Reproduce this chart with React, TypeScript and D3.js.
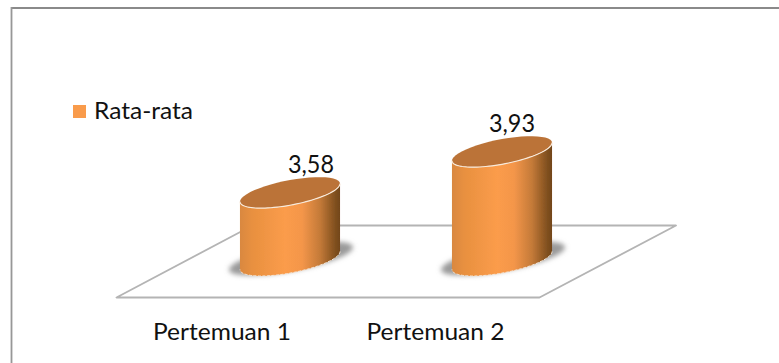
import React from "react";
import * as d3 from "d3";

// Chart values
const categories = ["Pertemuan 1", "Pertemuan 2"];
const averages = [3.58, 3.93];
const averageLabels = ["3,58", "3,93"];
const seriesName = "Rata-rata";

// Label nudges relative to the top of each cylinder
const labelNudge = [21, 10];
const categoryNudge = [-68, -66.5];

const WIDTH = 779;
const HEIGHT = 363;
const FONT = "Lato, 'Noto Sans', sans-serif";

const xScale = d3
  .scaleBand<string>()
  .domain(categories)
  .range([184, 608])
  .paddingInner(0.528)
  .paddingOuter(0.264);

// The value axis is truncated at 3, as in the original 3D column chart
const yScale = d3.scaleLinear().domain([3, 4]).range([260.5, 143.5]);

const SKEW = 0.18;
const MINOR = 12.6;

// Point on the tilted elliptical cross-section of a cylinder
function rimPoint(cx: number, cy: number, a: number, t: number): [number, number] {
  return [cx + a * Math.cos(t), cy - SKEW * a * Math.cos(t) + MINOR * Math.sin(t)];
}

const rimLine = d3.line<[number, number]>();

function rim(cx: number, cy: number, a: number, from: number, to: number) {
  const pts = d3.range(0, 49).map((i) => rimPoint(cx, cy, a, from + ((to - from) * i) / 48));
  return pts;
}

function cylinderBody(cx: number, top: number, base: number, a: number) {
  const upper = rim(cx, top, a, Math.PI, 0);
  const lower = rim(cx, base, a, 0, Math.PI);
  return rimLine([...upper, ...lower]) + "Z";
}

export default function App() {
  const bw = xScale.bandwidth();
  const a = bw / 2;
  const base = yScale(3);
  const floor: [number, number][] = [
    [116.5, 297.5],
    [539.5, 297.5],
    [676, 225.5],
    [252.5, 225.5],
  ];

  return (
    <svg
      width={WIDTH}
      height={HEIGHT}
      viewBox={`0 0 ${WIDTH} ${HEIGHT}`}
      style={{ position: "absolute", left: 0, top: 0, background: "#fff" }}
    >
      <defs>
        <linearGradient id="cylinderSide" x1="0" x2="1" y1="0" y2="0">
          <stop offset="0" stopColor="#d9883f" />
          <stop offset="0.12" stopColor="#e8903f" />
          <stop offset="0.45" stopColor="#fb9c4b" />
          <stop offset="0.62" stopColor="#f4964a" />
          <stop offset="0.8" stopColor="#c47a38" />
          <stop offset="0.95" stopColor="#81501f" />
          <stop offset="1" stopColor="#724619" />
        </linearGradient>
        <filter id="softShadow" x="-30%" y="-60%" width="160%" height="220%">
          <feGaussianBlur stdDeviation="2.8" />
        </filter>
        <filter id="softEdge" x="-10%" y="-10%" width="120%" height="120%">
          <feGaussianBlur stdDeviation="0.5" />
        </filter>
      </defs>

      {/* Outer frame: only the top and left edges are visible */}
      <line x1={11} y1={8} x2={WIDTH} y2={8} stroke="#8a8a8a" strokeWidth={2} />
      <line x1={11.5} y1={7} x2={11.5} y2={HEIGHT} stroke="#979797" strokeWidth={1.8} />

      {/* Floor plane */}
      <polygon
        points={floor.map((p) => p.join(",")).join(" ")}
        fill="#fff"
        stroke="#b4b4b4"
        strokeWidth={1.8}
        strokeLinejoin="round"
      />

      {/* Legend */}
      <rect x={73} y={105} width={13} height={13} fill="#f99b4b" />
      <text
        x={94}
        y={119}
        fontFamily={FONT}
        fontSize={24}
        fill="#111"
        textLength={99}
        lengthAdjust="spacingAndGlyphs"
      >
        {seriesName}
      </text>

      {/* Cylinders */}
      {categories.map((c, i) => {
        const cx = xScale(c)! + a;
        const top = yScale(averages[i]);
        return (
          <g key={c}>
            <path
              d={rimLine(rim(cx + 1, base - 2, a + 12, 0, Math.PI * 2)) + "Z"}
              fill="#9a9a9a"
              filter="url(#softShadow)"
            />
            <g filter="url(#softEdge)">
              <path d={cylinderBody(cx, top, base, a)} fill="url(#cylinderSide)" />
              <path d={rimLine(rim(cx, top, a, 0, Math.PI * 2)) + "Z"} fill="#bb7337" />
            </g>
            <path
              d={rimLine(rim(cx, top, a, 0, Math.PI))!}
              fill="none"
              stroke="#f8eadb"
              strokeWidth={1.2}
            />
            <path
              d={rimLine(rim(cx, base, a, 0, Math.PI))!}
              fill="none"
              stroke="#f5e6d6"
              strokeWidth={1}
              strokeDasharray="3 1.5"
            />
            <text
              x={cx + labelNudge[i]}
              y={top - 20}
              textAnchor="middle"
              fontFamily={FONT}
              fontSize={25}
              fill="#111"
              textLength={46}
              lengthAdjust="spacingAndGlyphs"
            >
              {averageLabels[i]}
            </text>
            <text
              x={cx + categoryNudge[i]}
              y={340}
              textAnchor="middle"
              fontFamily={FONT}
              fontSize={24}
              fill="#111"
              textLength={138}
              lengthAdjust="spacingAndGlyphs"
            >
              {c}
            </text>
          </g>
        );
      })}
    </svg>
  );
}
